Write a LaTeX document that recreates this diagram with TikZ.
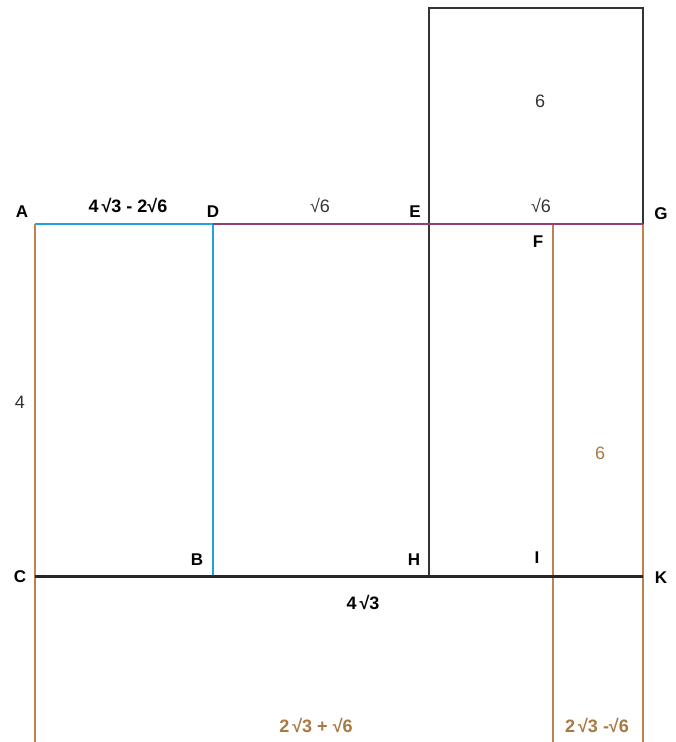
\documentclass[tikz,border=0pt]{standalone}
\usepackage{fontspec}
\setmainfont{Liberation Sans}
\definecolor{azul}{RGB}{35,160,225}
\definecolor{morado}{RGB}{150,60,115}
\definecolor{ocre}{RGB}{190,130,80}
\definecolor{ocretxt}{RGB}{170,120,65}
\tikzset{
  letra/.style={font=\fontsize{17}{20}\selectfont\bfseries},
  medida/.style={font=\fontsize{18}{21}\selectfont},
  medidab/.style={font=\fontsize{18}{21}\selectfont\bfseries}
}
\begin{document}
\begin{tikzpicture}[x=1pt,y=-1pt]
            \useasboundingbox (0,0) rectangle (676,742);
            % Puntos
            \coordinate (A) at (35,224);
            \coordinate (D) at (213,224);
            \coordinate (E) at (429,224);
            \coordinate (F) at (553,224);
            \coordinate (G) at (643,224);
            \coordinate (C) at (35,576);
            \coordinate (B) at (213,576);
            \coordinate (H) at (429,576);
            \coordinate (I) at (553,576);
            \coordinate (K) at (643,576);
            \coordinate (Etop) at (429,8);
            \coordinate (Gtop) at (643,8);
            \coordinate (Cbot) at (35,742);
            \coordinate (Ibot) at (553,742);
            \coordinate (Kbot) at (643,742);
            % Cuadrado superior
            \draw[line width=1.3pt,black!80] (E) -- (Etop) -- (Gtop) -- (G);
            \draw[line width=1.3pt,black!80] (E) -- (H);
            % Lineas ocre
            \draw[line width=2.2pt,ocre] (A) -- (Cbot);
            \draw[line width=2.2pt,ocre] (F) -- (Ibot);
            \draw[line width=2.2pt,ocre] (G) -- (Kbot);
            % Rectangulo azul
            \draw[line width=2.8pt,azul] (B) -- (D) -- (A);
            \draw[line width=2.8pt,morado] (D) -- (G);
            % Base
            \draw[line width=3pt,black!85] (C) -- (K);
            % Letras
            \node[letra] (lA) at (22,212) {A};
            \node[letra] (lD) at (213,212) {D};
            \node[letra] (lE) at (415,212) {E};
            \node[letra] (lG) at (661,214) {G};
            \node[letra] (lF) at (538,242) {F};
            \node[letra] (lC) at (20,577) {C};
            \node[letra] (lK) at (661,578) {K};
            \node[letra] (lB) at (197,560) {B};
            \node[letra] (lH) at (414,560) {H};
            \node[letra] (lI) at (537,558) {I};
            % Medidas
            \node[medidab] (mAD) at (128,205) {4\,√3 - 2√6};
            \node[medida,black!80] (mDE) at (320,205) {√6};
            \node[medida,black!80] (mEG) at (541,205) {√6};
            \node[medida,black!80] (mCuad) at (540,101) {6};
            \node[medida,black!80] (mAC) at (20,402) {4};
            \node[medida,ocretxt] (mGK) at (600,453) {6};
            \node[medidab] (mCK) at (363,602) {4\,√3};
            \node[medidab,ocretxt] (mCI) at (316,725) {2\,√3 + √6};
            \node[medidab,ocretxt] (mIK) at (597,725) {2\,√3 -√6};
        \end{tikzpicture}
\end{document}
